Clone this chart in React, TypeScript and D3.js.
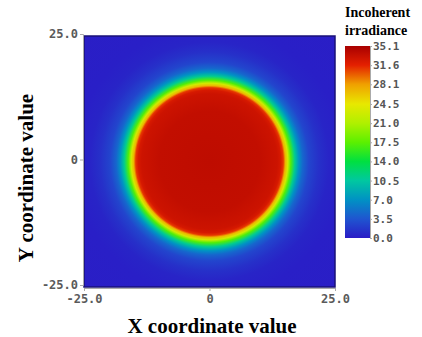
import React, { useEffect, useRef } from 'react';
import * as d3 from 'd3';

// axis ticks (both axes share them)
const axisTicks = [-25, 0, 25];
const axisTickLabels = ['-25.0', '0', '25.0'];

// colour bar
const legendTicks = [0, 3.5, 7.0, 10.5, 14.0, 17.5, 21.0, 24.5, 28.1, 31.6, 35.1];
const legendTickLabels = ['0.0', '3.5', '7.0', '10.5', '14.0', '17.5', '21.0', '24.5', '28.1', '31.6', '35.1'];
const legendColors = ['#2a1cc6', '#1f55d0', '#0092c4', '#00c8a0', '#00e040', '#5cf000', '#b0f000', '#e8e800', '#f0a000', '#e42000', '#a80000'];

// radial irradiance profile (radius in coord units, value)
const profileRadius = [0, 10, 13.5, 14.2, 14.7, 15.1, 15.6, 16.2, 17.0, 17.8, 18.6, 19.8, 21.8, 23.8, 27, 36];
const profileValue = [33.8, 33.6, 33.0, 32.4, 31, 27, 23, 17, 11, 7, 4.5, 2.5, 1.2, 0.5, 0.2, 0.1];

const W = 422;
const H = 337;
const plot = { left: 84, right: 335, top: 36, bottom: 287 };
const bar = { left: 345, right: 370, top: 46, bottom: 238 };

function App() {
  const ref = useRef<SVGSVGElement>(null);

  useEffect(() => {
    const svg = d3.select(ref.current);
    svg.selectAll('*').remove();

    const xScale = d3.scaleLinear().domain([-25, 25]).range([plot.left, plot.right]);
    const yScale = d3.scaleLinear().domain([-25, 25]).range([plot.bottom, plot.top]);
    const color = d3.scaleLinear<string>().domain(legendTicks).range(legendColors).clamp(true);

    const defs = svg.append('defs');
    const rMax = profileRadius[profileRadius.length - 1];
    const rad = defs
      .append('radialGradient')
      .attr('id', 'spot')
      .attr('gradientUnits', 'userSpaceOnUse')
      .attr('cx', xScale(0))
      .attr('cy', yScale(0))
      .attr('r', xScale(rMax) - xScale(0));
    profileRadius.forEach((r, i) => {
      rad.append('stop').attr('offset', r / rMax).attr('stop-color', color(profileValue[i]));
    });

    const lg = defs
      .append('linearGradient')
      .attr('id', 'bar')
      .attr('x1', 0).attr('x2', 0).attr('y1', 1).attr('y2', 0);
    legendTicks.forEach((v, i) => {
      lg.append('stop').attr('offset', v / 35.1).attr('stop-color', legendColors[i]);
    });

    // heatmap
    svg.append('rect')
      .attr('x', plot.left)
      .attr('y', plot.top)
      .attr('width', plot.right - plot.left)
      .attr('height', plot.bottom - plot.top)
      .attr('fill', 'url(#spot)')
      .attr('stroke', '#1a1278')
      .attr('stroke-width', 1.5);

    const tickFont = (g: any) =>
      g.selectAll('text')
        .attr('font-family', 'DejaVu Sans Mono')
        .attr('font-weight', 'bold')
        .attr('font-size', 12)
        .attr('fill', '#5a5a5a');

    // y axis
    svg.append('g')
      .attr('transform', `translate(${plot.left - 1},-2)`)
      .call(d3.axisLeft(yScale).tickValues(axisTicks).tickFormat((d, i) => axisTickLabels[i]).tickSize(3).tickPadding(2))
      .call(g => g.selectAll('line,path').attr('stroke', '#aaa'))
      .call(tickFont);

    // x axis
    svg.append('g')
      .attr('transform', `translate(0,${plot.bottom + 1})`)
      .call(d3.axisBottom(xScale).tickValues(axisTicks).tickFormat((d, i) => axisTickLabels[i]).tickSize(3).tickPadding(3))
      .call(g => g.selectAll('line,path').attr('stroke', '#aaa'))
      .call(tickFont);

    // axis titles
    svg.append('text')
      .attr('x', 212)
      .attr('y', 333)
      .attr('text-anchor', 'middle')
      .attr('font-family', 'Liberation Serif')
      .attr('font-weight', 'bold')
      .attr('font-size', 21)
      .text('X coordinate value');
    svg.append('text')
      .attr('transform', `translate(33,178) rotate(-90)`)
      .attr('text-anchor', 'middle')
      .attr('font-family', 'Liberation Serif')
      .attr('font-weight', 'bold')
      .attr('font-size', 21)
      .text('Y coordinate value');

    // colour bar
    svg.append('rect')
      .attr('x', bar.left)
      .attr('y', bar.top)
      .attr('width', bar.right - bar.left)
      .attr('height', bar.bottom - bar.top)
      .attr('fill', 'url(#bar)');
    const barScale = d3.scaleLinear().domain([0, 35.1]).range([bar.bottom, bar.top]);
    svg.append('g')
      .attr('transform', `translate(${bar.right},0)`)
      .call(d3.axisRight(barScale).tickValues(legendTicks).tickFormat((d, i) => legendTickLabels[i]).tickSize(2).tickPadding(1))
      .call(g => g.selectAll('line,path').attr('stroke', '#aaa'))
      .call(g => g.selectAll('text')
        .attr('font-family', 'DejaVu Sans Mono')
        .attr('font-weight', 'bold')
        .attr('font-size', 11)
        .attr('fill', '#555'));

    svg.append('text')
      .attr('x', 345).attr('y', 17)
      .attr('font-family', 'Liberation Serif').attr('font-weight', 'bold').attr('font-size', 14)
      .text('Incoherent');
    svg.append('text')
      .attr('x', 345).attr('y', 35)
      .attr('font-family', 'Liberation Serif').attr('font-weight', 'bold').attr('font-size', 14)
      .text('irradiance');
  }, []);

  return (
    <svg
      ref={ref}
      width={W}
      height={H}
      style={{ position: 'absolute', left: 0, top: 0, background: '#fff' }}
    />
  );
}

export default App;
